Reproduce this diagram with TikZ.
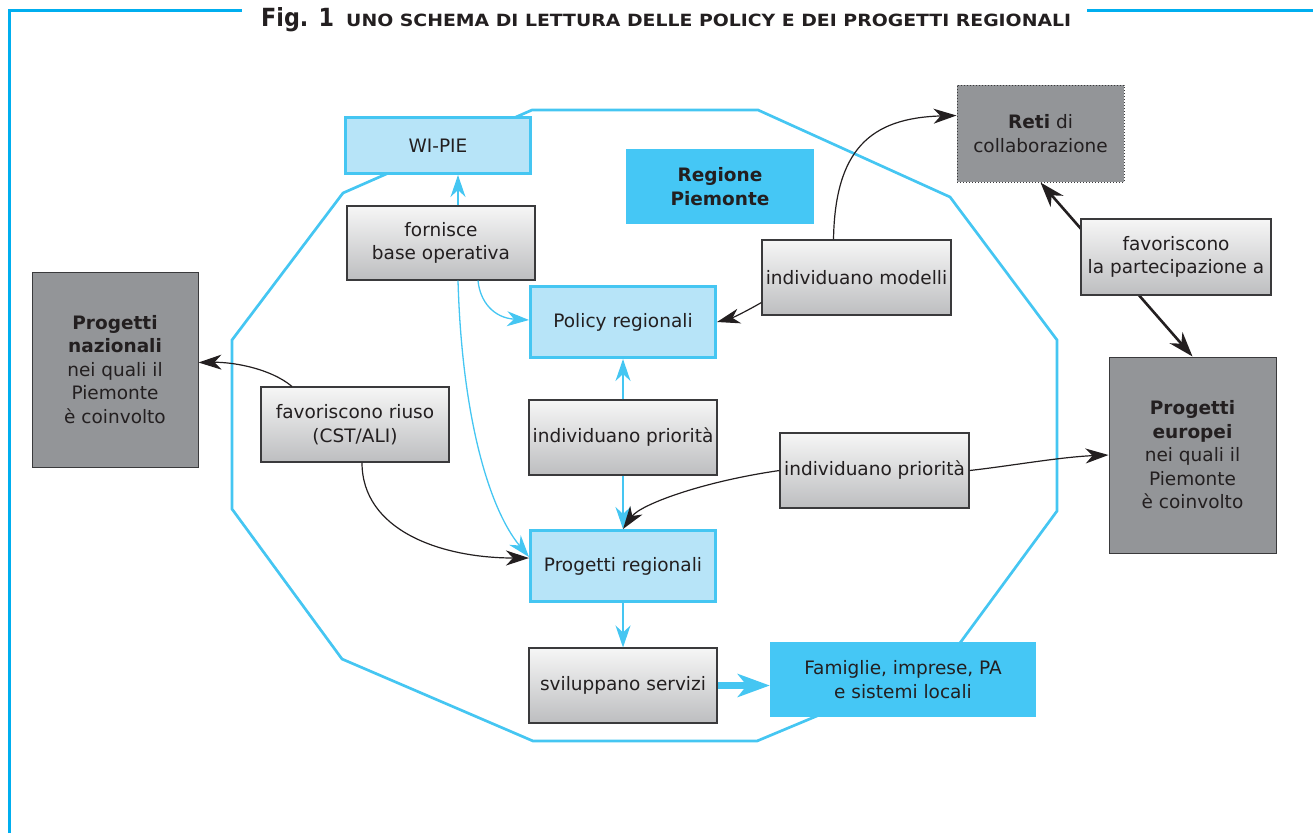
\documentclass[tikz,border=0pt]{standalone}
\usepackage{fontspec}
\setmainfont{DejaVu Sans}
\usetikzlibrary{arrows.meta}
\definecolor{cyanb}{HTML}{45C6F2}
\definecolor{cyanf}{HTML}{45C7F5}
\definecolor{lblue}{HTML}{B7E4F8}
\definecolor{frameb}{HTML}{00AEEF}
\definecolor{dgray}{HTML}{939598}
\definecolor{bord}{HTML}{3A3A3C}
\definecolor{gtop}{HTML}{F6F6F6}
\definecolor{gbot}{HTML}{BDBEC0}
\definecolor{txt}{HTML}{231F20}
\begin{document}
\begin{tikzpicture}[x=1pt,y=-1pt,
  every node/.style={inner sep=0pt, align=center, text=txt, font=\fontsize{18.5}{23.5}\selectfont},
  lbbox/.style={fill=lblue, draw=cyanb, line width=3pt},
  cbox/.style={fill=cyanf},
  gbox/.style={draw=bord, line width=1.1pt, top color=gtop, bottom color=gbot},
  dbox/.style={fill=dgray, draw=bord, line width=1pt},
  carrow/.style={draw=cyanb, line width=1.3pt, -{Stealth[length=22pt,width=15pt,inset=7pt]}},
  carrowb/.style={draw=cyanb, line width=2.2pt, -{Stealth[length=22pt,width=15pt,inset=7pt]}},
  barrow/.style={draw=txt, line width=1.2pt, -{Stealth[length=23pt,width=15pt,inset=7pt]}},
  bbarrow/.style={draw=txt, line width=2.6pt, {Stealth[length=25pt,width=17pt,inset=8pt]}-{Stealth[length=25pt,width=17pt,inset=8pt]}},
  fatarrow/.style={draw=cyanb, line width=7pt, -{Stealth[length=32pt,width=23pt,inset=9pt]}}
]
\useasboundingbox (0,0) rectangle (1313,833);
% frame
\draw[frameb, line width=3pt] (9,833) -- (9,10) -- (242,10);
\draw[frameb, line width=3pt] (1087,10) -- (1313,10);
% title
\node[anchor=base west] (fig) at (261,26) {\resizebox{73pt}{19pt}{\bfseries Fig. 1}};
\node[anchor=base west] (ttl) at (346,26) {\resizebox{725pt}{12.5pt}{\bfseries UNO SCHEMA DI LETTURA DELLE POLICY E DEI PROGETTI REGIONALI}};
% octagon
\draw[cyanb, line width=2.7pt, line join=miter] (532,110) -- (758,110) -- (950,197) -- (1057,340) -- (1057,511) -- (946,662) -- (757,741) -- (533,741) -- (342,659) -- (232,509) -- (232,340) -- (343,193) -- cycle;
% nodes
\node[lbbox, minimum width=185pt, minimum height=56pt] (vvi) at (438,145.5) {WI-PIE};
\node[gbox, minimum width=188pt, minimum height=74pt] (forn) at (441,243) {fornisce\\base operativa};
\node[cbox, minimum width=188pt, minimum height=75pt] (reg) at (720,186.5) {\bfseries Regione\\\bfseries Piemonte};
\node[dbox, dotted, minimum width=167pt, minimum height=97pt] (reti) at (1040.5,133.5) {\textbf{Reti} di\\collaborazione};
\node[gbox, minimum width=189pt, minimum height=75pt] (mod) at (856.5,277.5) {individuano modelli};
\node[dbox, minimum width=166pt, minimum height=195pt] (naz) at (115,369.5) {\textbf{Progetti}\\\textbf{nazionali}\\nei quali il\\Piemonte\\è coinvolto};
\node[gbox, minimum width=188pt, minimum height=75pt] (riuso) at (355,424.5) {favoriscono riuso\\(CST/ALI)};
\node[lbbox, minimum width=185pt, minimum height=71pt] (pol) at (623,322) {Policy regionali};
\node[gbox, minimum width=188pt, minimum height=75pt] (prio1) at (623,437.5) {individuano priorità};
\node[gbox, minimum width=189pt, minimum height=75pt] (prio2) at (874.5,470.5) {individuano priorità};
\node[lbbox, minimum width=185pt, minimum height=71pt] (preg) at (623,566) {Progetti regionali};
\node[gbox, minimum width=188pt, minimum height=75pt] (svil) at (623,685.5) {sviluppano servizi};
\node[cbox, minimum width=266pt, minimum height=75pt] (fam) at (903,679.5) {Famiglie, imprese, PA\\e sistemi locali};
\node[dbox, minimum width=167pt, minimum height=196pt] (eur) at (1192.5,455) {\textbf{Progetti}\\\textbf{europei}\\nei quali il\\Piemonte\\è coinvolto};
% thick double arrow behind the "favoriscono" box
\draw[bbarrow] (reti.south) -- (eur.north);
\node[gbox, minimum width=190pt, minimum height=76pt] (fav) at (1176,257) {favoriscono\\la partecipazione a};
% cyan connectors
\draw[carrow] ([xshift=17pt]forn.north) -- ([xshift=20pt]vvi.south);
\draw[carrow] ([xshift=37pt]forn.south) .. controls (480,302) and (494,318) .. ([yshift=2pt]pol.west);
\draw[carrow] ([xshift=17pt]forn.south) .. controls (462,420) and (490,510) .. ([yshift=9pt]preg.west);
\draw[carrowb] (prio1.north) -- (pol.south);
\draw[carrowb] (prio1.south) -- (preg.north);
\draw[carrow] (preg.south) -- (svil.north);
\draw[fatarrow] (svil.east) -- (svil.east -| fam.west);
% black connectors
\draw[barrow] ([yshift=-25pt]mod.west) .. controls (745,312) and (732,318) .. (pol.east);
\draw[barrow] ([xshift=-23pt]mod.north) .. controls (835,150) and (870,118) .. ([yshift=18pt]reti.west);
\draw[barrow] ([xshift=-63pt]riuso.north) .. controls (270,368) and (232,362) .. ([yshift=7pt]naz.east);
\draw[barrow] ([xshift=7pt]riuso.south) .. controls (362,530) and (440,558) .. ([yshift=8pt]preg.west);
\draw[barrow] (prio2.west) .. controls (700,482) and (640,505) .. (preg.north);
\draw[barrow] (prio2.east) .. controls (1010,466) and (1060,457) .. (eur.west);
\end{tikzpicture}
\end{document}
